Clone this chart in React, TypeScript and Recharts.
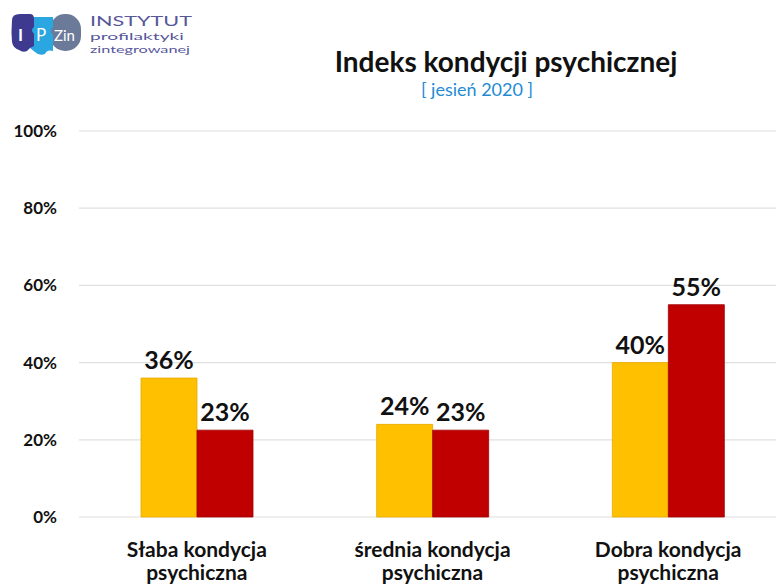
import React from "react"
import { BarChart, Bar, XAxis, YAxis, CartesianGrid, LabelList } from "recharts"

const categories = [
  "Słaba kondycja psychiczna",
  "średnia kondycja psychiczna",
  "Dobra kondycja psychiczna",
]
const yellowValues = [36, 24, 40]
const redValues = [22.5, 22.5, 55]
const yTicks = [0, 20, 40, 60, 80, 100]

const data = categories.map((name, i) => ({
  name,
  yellow: yellowValues[i],
  red: redValues[i],
}))

const FONT = "Lato, 'Open Sans', sans-serif"

function CategoryTick(props: any) {
  const { x, y, payload } = props
  const words = String(payload.value).split(" ")
  const first = words.slice(0, 2).join(" ")
  const second = words.slice(2).join(" ")
  return (
    <text textAnchor="middle" fontFamily={FONT} fontWeight={700} fontSize={21} fill="#111">
      <tspan x={x} y={y + 40}>{first}</tspan>
      <tspan x={x} y={y + 63}>{second}</tspan>
    </text>
  )
}

function Logo() {
  return (
    <svg width={200} height={60} style={{ position: "absolute", left: 0, top: 0 }}>
      {/* grey piece */}
      <rect x={50} y={14} width={31} height={37} rx={15} fill="#6b7a99" />
      {/* blue piece */}
      <path d="M31 17 h22 v10 q-4 4 0 8 v16 q-6 -2 -8 3 q-6 2 -10 -2 q-4 -3 -6 -5 v-14 q4 -3 0 -7 z" fill="#2aa6e0" />
      {/* purple piece */}
      <path d="M12 20 q0 -6 8 -6 h10 q4 0 4 5 v8 q-4 3 0 7 v12 q-4 1 -7 5 q-4 2 -8 -1 q-6 -2 -7 -8 q-1 -10 0 -22 z" fill="#3d3a8f" />
      <text x={18} y={41} fontFamily={FONT} fontWeight={700} fontSize={17} fill="#fff">I</text>
      <text x={36} y={41} fontFamily={FONT} fontWeight={400} fontSize={17} fill="#fff">P</text>
      <text x={54} y={41} fontFamily={FONT} fontWeight={400} fontSize={15} fill="#fff">Zin</text>
      <text x={90} y={26} fontFamily={FONT} fontSize={13} fill="#57579a" textLength={102} lengthAdjust="spacingAndGlyphs">INSTYTUT</text>
      <text x={90} y={40} fontFamily={FONT} fontSize={10} fill="#57579a" textLength={94} lengthAdjust="spacingAndGlyphs">profilaktyki</text>
      <text x={90} y={53} fontFamily={FONT} fontSize={10} fill="#57579a" textLength={100} lengthAdjust="spacingAndGlyphs">zintegrowanej</text>
    </svg>
  )
}

export default function App() {
  return (
    <div
      style={{
        position: "absolute",
        left: 0,
        top: 0,
        width: 776,
        height: 586,
        overflow: "hidden",
        background: "#fff",
        fontFamily: FONT,
      }}
    >
      <Logo />
      <div
        style={{
          position: "absolute",
          left: 256,
          width: 500,
          top: 44,
          textAlign: "center",
          fontWeight: 700,
          fontSize: 28,
          lineHeight: "34px",
          color: "#111",
        }}
      >
        Indeks kondycji psychicznej
      </div>
      <div
        style={{
          position: "absolute",
          left: 377,
          width: 200,
          top: 78,
          textAlign: "center",
          fontSize: 18,
          color: "#1f8bd3",
        }}
      >
        [ jesień 2020 ]
      </div>
      <BarChart
        width={786}
        height={586}
        data={data}
        margin={{ top: 131, right: 0, bottom: 0, left: 0 }}
        barGap={0}
        barSize={56}
        style={{ position: "absolute", left: 0, top: 0 }}
      >
        <CartesianGrid vertical={false} stroke="#e0e0e0" strokeWidth={1.2} />
        <XAxis
          dataKey="name"
          height={69}
          axisLine={false}
          tickLine={false}
          tickSize={0}
          tickMargin={0}
          interval={0}
          tick={<CategoryTick />}
        />
        <YAxis
          width={79}
          domain={[0, 100]}
          ticks={yTicks}
          axisLine={false}
          tickLine={false}
          tickSize={0}
          tickMargin={22}
          tickFormatter={(v: number) => `${v}%`}
          tick={{ fontFamily: FONT, fontWeight: 700, fontSize: 17, fill: "#111" }}
        />
        <Bar dataKey="yellow" fill="#ffc000" stroke="#e6a800" strokeWidth={0.8} isAnimationActive={false}>
          <LabelList
            dataKey="yellow"
            position="top"
            offset={9}
            formatter={(v: any) => `${Math.round(Number(v))}%`}
            style={{ fontFamily: FONT, fontWeight: 700, fontSize: 25, fill: "#111" }}
          />
        </Bar>
        <Bar dataKey="red" fill="#c00000" stroke="#a00000" strokeWidth={0.8} isAnimationActive={false}>
          <LabelList
            dataKey="red"
            position="top"
            offset={9}
            formatter={(v: any) => `${Math.round(Number(v))}%`}
            style={{ fontFamily: FONT, fontWeight: 700, fontSize: 25, fill: "#111" }}
          />
        </Bar>
      </BarChart>
    </div>
  )
}
